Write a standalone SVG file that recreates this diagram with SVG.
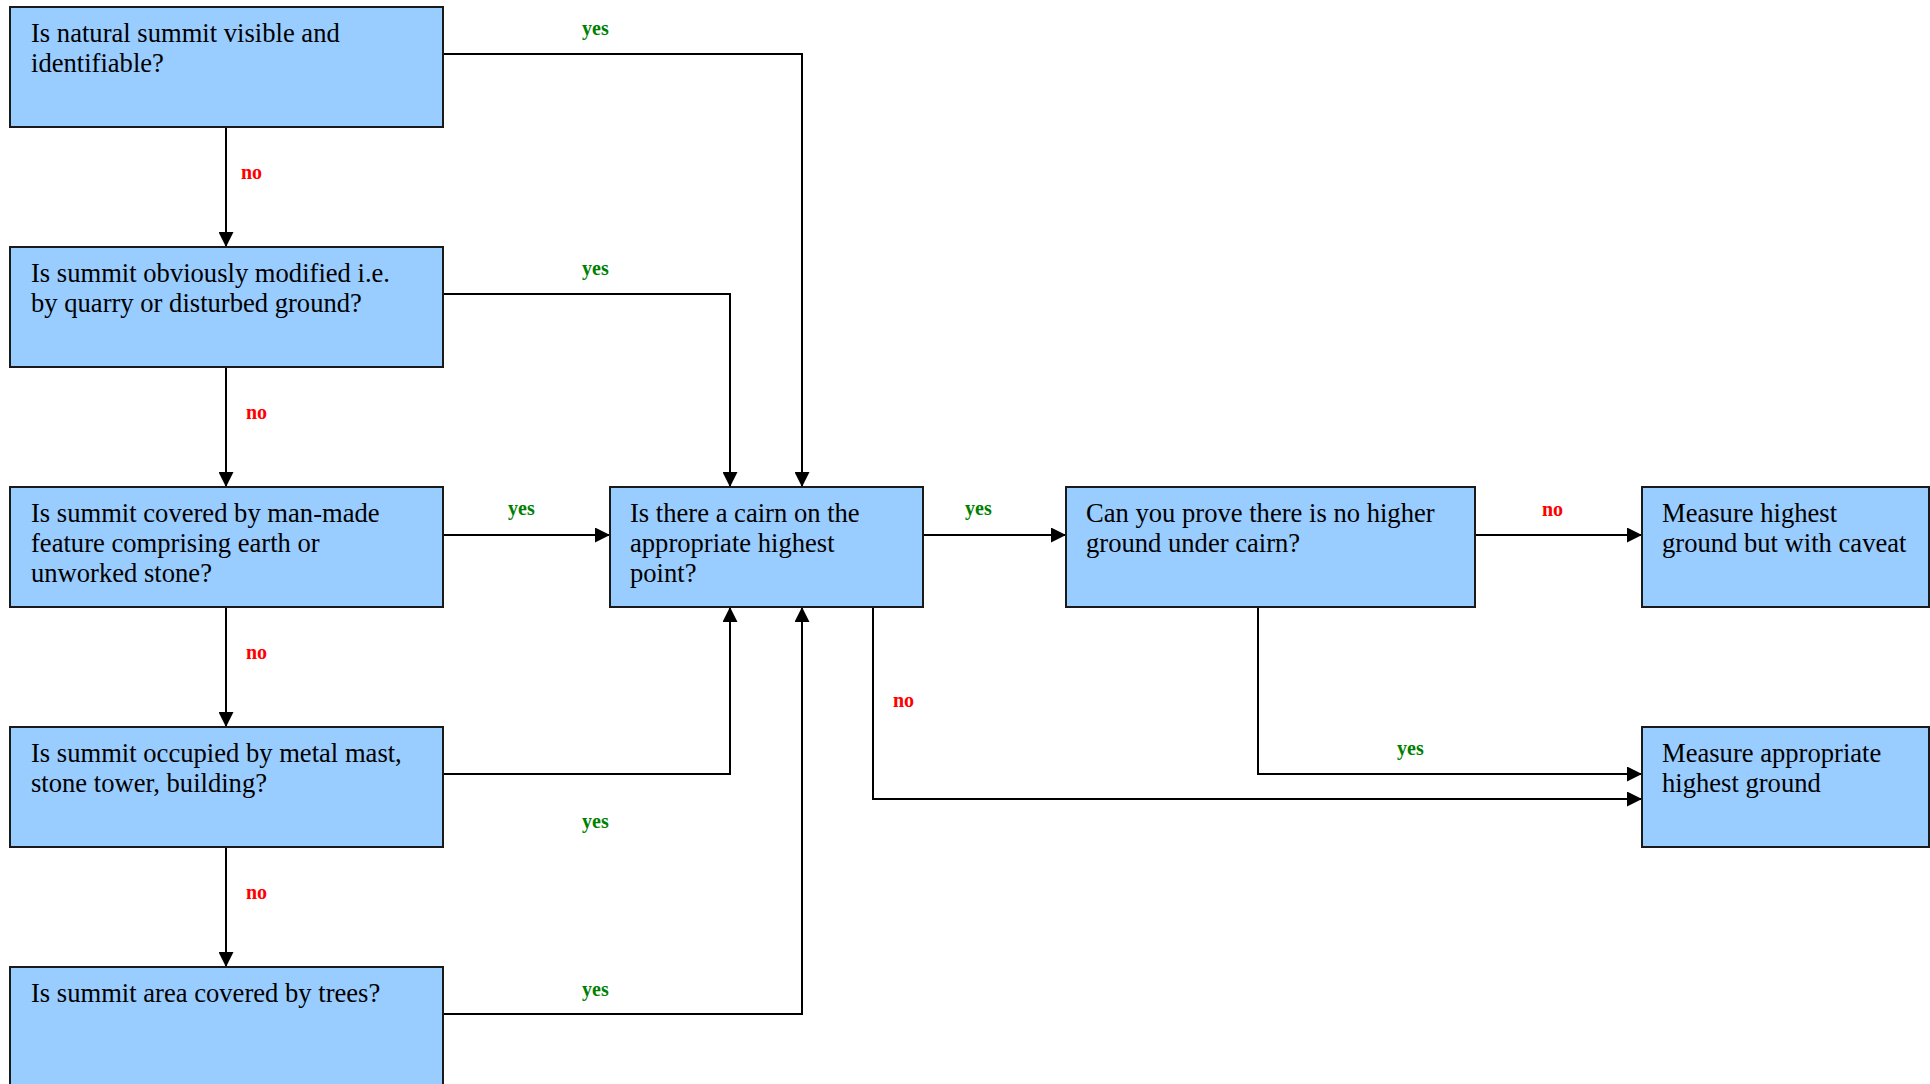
<svg xmlns="http://www.w3.org/2000/svg" width="1930" height="1084" viewBox="0 0 1930 1084">
<style>
.box{fill:#99CCFF;stroke:#1a1a1a;stroke-width:2}
.t{font-family:"Liberation Serif","Times New Roman",serif;font-size:26.6px;fill:#000}
.c{fill:none;stroke:#000;stroke-width:2}
.y{font-family:"Liberation Serif","Times New Roman",serif;font-size:20px;font-weight:bold;fill:#008000}
.n{font-family:"Liberation Serif","Times New Roman",serif;font-size:20px;font-weight:bold;fill:#FF0000}
</style>
<defs>
<marker id="ah" viewBox="0 0 15 15" refX="15" refY="7.5" markerWidth="15" markerHeight="15" markerUnits="userSpaceOnUse" orient="auto">
<path d="M0,0 L15,7.5 L0,15 Z" fill="#000"/>
</marker>
</defs>
<rect width="1930" height="1084" fill="#fff"/>
<g id="connectors">
<path class="c" d="M226,127 V247" marker-end="url(#ah)"/>
<path class="c" d="M226,367 V487" marker-end="url(#ah)"/>
<path class="c" d="M226,607 V727" marker-end="url(#ah)"/>
<path class="c" d="M226,847 V967" marker-end="url(#ah)"/>
<path class="c" d="M443,54 H802 V487" marker-end="url(#ah)"/>
<path class="c" d="M443,294 H730 V487" marker-end="url(#ah)"/>
<path class="c" d="M443,535 H610" marker-end="url(#ah)"/>
<path class="c" d="M443,774 H730 V607" marker-end="url(#ah)"/>
<path class="c" d="M443,1014 H802 V607" marker-end="url(#ah)"/>
<path class="c" d="M923,535 H1066" marker-end="url(#ah)"/>
<path class="c" d="M1475,535 H1642" marker-end="url(#ah)"/>
<path class="c" d="M1258,607 V774 H1642" marker-end="url(#ah)"/>
<path class="c" d="M873,607 V799 H1642" marker-end="url(#ah)"/>
<text class="n" x="241" y="179">no</text>
<text class="n" x="246" y="419">no</text>
<text class="n" x="246" y="659">no</text>
<text class="n" x="246" y="899">no</text>
<text class="y" x="582" y="35">yes</text>
<text class="y" x="582" y="275">yes</text>
<text class="y" x="508" y="515">yes</text>
<text class="y" x="582" y="828">yes</text>
<text class="y" x="582" y="996">yes</text>
<text class="y" x="965" y="515">yes</text>
<text class="n" x="1542" y="516">no</text>
<text class="n" x="893" y="707">no</text>
<text class="y" x="1397" y="755">yes</text>
</g>
<g id="q1"><rect class="box" x="10" y="7" width="433" height="120"/>
<text class="t" x="31" y="42">Is natural summit visible and</text><text class="t" x="31" y="72">identifiable?</text></g>
<g id="q2"><rect class="box" x="10" y="247" width="433" height="120"/>
<text class="t" x="31" y="282">Is summit obviously modified i.e.</text><text class="t" x="31" y="312">by quarry or disturbed ground?</text></g>
<g id="q3"><rect class="box" x="10" y="487" width="433" height="120"/>
<text class="t" x="31" y="522">Is summit covered by man-made</text><text class="t" x="31" y="552">feature comprising earth or</text><text class="t" x="31" y="582">unworked stone?</text></g>
<g id="q4"><rect class="box" x="10" y="727" width="433" height="120"/>
<text class="t" x="31" y="762">Is summit occupied by metal mast,</text><text class="t" x="31" y="792">stone tower, building?</text></g>
<g id="q5"><rect class="box" x="10" y="967" width="433" height="120"/>
<text class="t" x="31" y="1002">Is summit area covered by trees?</text></g>
<g id="cairn"><rect class="box" x="610" y="487" width="313" height="120"/>
<text class="t" x="630" y="522">Is there a cairn on the</text><text class="t" x="630" y="552">appropriate highest</text><text class="t" x="630" y="582">point?</text></g>
<g id="prove"><rect class="box" x="1066" y="487" width="409" height="120"/>
<text class="t" x="1086" y="522">Can you prove there is no higher</text><text class="t" x="1086" y="552">ground under cairn?</text></g>
<g id="caveat"><rect class="box" x="1642" y="487" width="287" height="120"/>
<text class="t" x="1662" y="522">Measure highest</text><text class="t" x="1662" y="552">ground but with caveat</text></g>
<g id="measure"><rect class="box" x="1642" y="727" width="287" height="120"/>
<text class="t" x="1662" y="762">Measure appropriate</text><text class="t" x="1662" y="792">highest ground</text></g>
</svg>
